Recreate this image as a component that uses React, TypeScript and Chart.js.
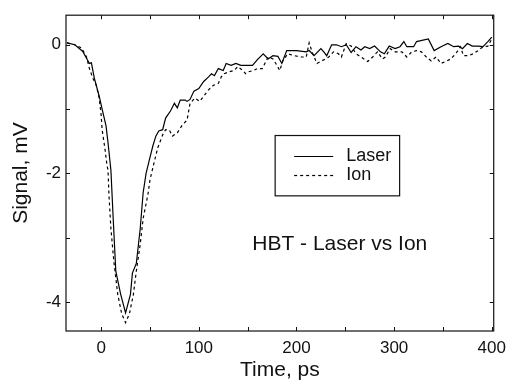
import React, { useEffect, useRef } from "react";
import { Chart, registerables } from "chart.js";

Chart.register(...registerables);

// Time (ps) and signal (mV) for the laser-induced transient
const timeLaser = [-35, -27, -19, -12, -10, -7, -2, 1, 5, 7, 10, 12, 15, 20, 25, 30, 32, 36, 40, 43, 46, 50, 53, 56, 59, 63, 66, 71, 75, 78, 81, 86, 88, 91, 95, 100, 105, 110, 113, 116, 120, 125, 128, 133, 138, 143, 151, 155, 160, 166, 171, 176, 181, 185, 190, 200, 210, 213, 218, 225, 228, 231, 236, 241, 246, 251, 256, 261, 266, 270, 275, 280, 286, 290, 295, 301, 306, 310, 313, 320, 323, 335, 341, 348, 355, 361, 366, 370, 375, 380, 386, 391, 396, 400];
const signalLaser = [0.03, 0.0, -0.1, -0.29, -0.28, -0.52, -0.8, -1.0, -1.26, -1.52, -1.95, -2.6, -3.52, -3.88, -4.17, -3.88, -3.55, -3.4, -2.86, -2.3, -2.0, -1.75, -1.57, -1.42, -1.34, -1.32, -1.14, -1.03, -0.91, -0.98, -0.86, -0.86, -0.88, -0.85, -0.72, -0.68, -0.57, -0.5, -0.45, -0.48, -0.37, -0.4, -0.29, -0.32, -0.29, -0.32, -0.32, -0.32, -0.23, -0.14, -0.22, -0.17, -0.18, -0.29, -0.09, -0.09, -0.11, -0.09, -0.17, -0.06, -0.11, -0.17, 0.0, 0.0, -0.03, 0.0, -0.12, -0.03, -0.08, -0.03, -0.06, -0.02, -0.11, -0.14, -0.02, -0.06, -0.03, 0.05, -0.03, -0.03, 0.05, 0.09, -0.09, -0.03, 0.02, -0.03, -0.02, -0.06, 0.02, -0.02, -0.02, -0.03, 0.05, 0.12];

// Time (ps) and signal (mV) for the ion-induced transient
const timeIon = [-35, -27, -20, -15, -12, -9, -5, -2, 0, 1, 4, 6, 7, 8, 10, 13, 17, 21, 25, 29, 33, 36, 40, 43, 48, 50, 55, 58, 63, 66, 70, 73, 78, 83, 88, 91, 96, 101, 105, 110, 115, 120, 123, 126, 131, 136, 140, 145, 148, 151, 156, 160, 165, 171, 176, 180, 183, 186, 191, 198, 205, 210, 213, 216, 221, 226, 233, 238, 243, 246, 251, 256, 261, 266, 273, 278, 283, 288, 291, 296, 301, 308, 313, 318, 323, 328, 333, 338, 343, 348, 353, 358, 363, 368, 371, 376, 381, 386, 391, 396, 400];
const signalIon = [0.03, 0.0, -0.05, -0.19, -0.37, -0.5, -0.63, -0.83, -1.09, -1.32, -1.63, -1.88, -1.94, -2.34, -2.86, -3.37, -3.88, -4.18, -4.32, -4.18, -3.88, -3.52, -3.1, -2.7, -2.32, -2.1, -1.78, -1.6, -1.4, -1.32, -1.33, -1.42, -1.37, -1.25, -1.17, -0.91, -0.83, -0.88, -0.8, -0.7, -0.63, -0.6, -0.5, -0.45, -0.42, -0.4, -0.34, -0.4, -0.45, -0.42, -0.4, -0.37, -0.37, -0.19, -0.22, -0.32, -0.4, -0.25, -0.14, -0.17, -0.19, -0.19, 0.03, -0.11, -0.29, -0.25, -0.19, -0.11, -0.14, -0.19, 0.02, -0.02, -0.14, -0.19, -0.26, -0.19, -0.11, -0.22, -0.19, -0.06, -0.11, -0.11, -0.19, -0.11, -0.09, -0.11, -0.19, -0.25, -0.19, -0.29, -0.26, -0.22, -0.14, -0.03, -0.17, -0.17, -0.14, -0.09, -0.03, -0.02, 0.09];

const xTicks = [0, 100, 200, 300, 400];
const xMinorTicks = [50, 150, 250, 350];
const yTicks = [-4, -2, 0];
const yMinorTicks = [-3, -1];

const seriesNames = ["Laser", "Ion"];
const annotationText = "HBT - Laser vs Ion";
const xTitle = "Time, ps";
const yTitle = "Signal, mV";

const FONT = "'Liberation Sans', Arial, Helvetica, sans-serif";
const INK = "#111";

const framePlugin = {
  id: "frameAndExtras",
  afterDraw(chart: any) {
    const { ctx, chartArea, scales } = chart;
    const { left, right, top, bottom } = chartArea;
    const xs = scales.x;
    const ys = scales.y;
    ctx.save();
    ctx.strokeStyle = INK;
    ctx.lineWidth = 1.2;
    ctx.strokeRect(left, top, right - left, bottom - top);

    // inward tick marks on all four sides
    ctx.lineWidth = 1;
    const tickLen = 4;
    ctx.beginPath();
    [...xTicks, ...xMinorTicks].forEach((v) => {
      const px = Math.round(xs.getPixelForValue(v)) + 0.5;
      ctx.moveTo(px, bottom);
      ctx.lineTo(px, bottom - tickLen);
      ctx.moveTo(px, top);
      ctx.lineTo(px, top + tickLen);
    });
    [...yTicks, ...yMinorTicks].forEach((v) => {
      const py = Math.round(ys.getPixelForValue(v)) + 0.5;
      ctx.moveTo(left, py);
      ctx.lineTo(left + tickLen, py);
      ctx.moveTo(right, py);
      ctx.lineTo(right - tickLen, py);
    });
    ctx.stroke();

    // legend box
    const w = right - left;
    const h = bottom - top;
    const bx = left + 0.489 * w;
    const by = top + 0.381 * h;
    const bw = 0.291 * w;
    const bh = 0.191 * h;
    ctx.lineWidth = 1.2;
    ctx.strokeRect(bx, by, bw, bh);
    const ds = chart.data.datasets;
    const rows = [by + 21, by + 40];
    ds.forEach((d: any, i: number) => {
      ctx.beginPath();
      ctx.setLineDash(d.borderDash || []);
      ctx.lineWidth = d.borderWidth;
      ctx.strokeStyle = d.borderColor;
      ctx.moveTo(bx + 19, rows[i]);
      ctx.lineTo(bx + 58, rows[i]);
      ctx.stroke();
      ctx.setLineDash([]);
      ctx.fillStyle = INK;
      ctx.font = `18px ${FONT}`;
      ctx.textBaseline = "middle";
      ctx.textAlign = "left";
      ctx.fillText(d.label, bx + 71, rows[i]);
    });

    // annotation
    ctx.font = `21px ${FONT}`;
    ctx.textAlign = "center";
    ctx.textBaseline = "middle";
    ctx.fillStyle = INK;
    ctx.fillText(annotationText, left + 0.64 * w, top + 0.725 * h);
    ctx.restore();
  },
};

export default function App() {
  const ref = useRef<HTMLCanvasElement | null>(null);
  useEffect(() => {
    if (!ref.current) return;
    const chart = new Chart(ref.current, {
      type: "line",
      data: {
        datasets: [
          {
            label: seriesNames[0],
            data: timeLaser.map((t, i) => ({ x: t, y: signalLaser[i] })),
            borderColor: "#000",
            borderWidth: 1.2,
            pointRadius: 0,
            tension: 0,
            fill: false,
          },
          {
            label: seriesNames[1],
            data: timeIon.map((t, i) => ({ x: t, y: signalIon[i] })),
            borderColor: "#000",
            borderWidth: 1.2,
            borderDash: [3, 3],
            pointRadius: 0,
            tension: 0,
            fill: false,
          },
        ],
      },
      options: {
        animation: false,
        responsive: true,
        maintainAspectRatio: false,
        layout: { padding: { top: 11, right: 11, bottom: 0, left: 0 }, autoPadding: false } as any,
        plugins: { legend: { display: false }, tooltip: { enabled: false } },
        scales: {
          x: {
            type: "linear",
            min: -36,
            max: 402,
            afterBuildTicks: (s: any) => {
              s.ticks = xTicks.map((v) => ({ value: v }));
            },
            afterFit: (s: any) => {
              s.height = 52;
            },
            ticks: {
              font: { family: FONT, size: 17 },
              color: INK,
              padding: 7,
              maxRotation: 0,
              autoSkip: false,
            },
            grid: { display: false, drawTicks: false },
            border: { display: false },
            title: {
              display: true,
              text: xTitle,
              font: { family: FONT, size: 21 },
              color: INK,
              padding: { top: 0, bottom: 0 },
            },
          },
          y: {
            type: "linear",
            min: -4.45,
            max: 0.46,
            afterBuildTicks: (s: any) => {
              s.ticks = yTicks.map((v) => ({ value: v }));
            },
            afterFit: (s: any) => {
              s.width = 66;
            },
            ticks: {
              font: { family: FONT, size: 17 },
              color: INK,
              padding: 5,
              autoSkip: false,
            },
            grid: { display: false, drawTicks: false },
            border: { display: false },
            title: {
              display: true,
              text: yTitle,
              font: { family: FONT, size: 21 },
              color: INK,
              padding: { top: 9, bottom: 0 },
            },
          },
        },
      },
      plugins: [framePlugin],
    });
    return () => chart.destroy();
  }, []);
  return (
    <div style={{ position: "fixed", left: 0, top: 0, width: 513, height: 383, background: "#fff" }}>
      <canvas ref={ref} />
    </div>
  );
}
